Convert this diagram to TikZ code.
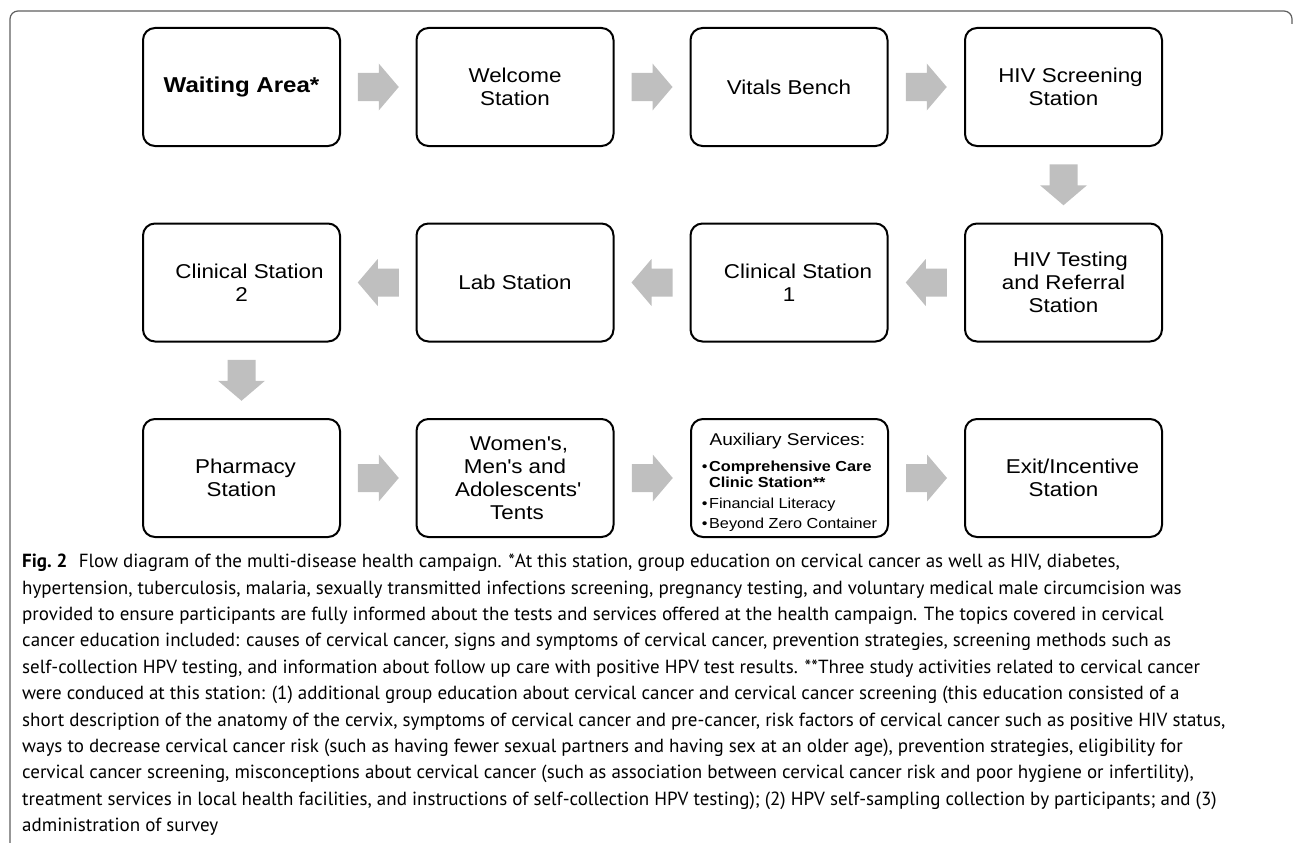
\documentclass[tikz,border=0pt]{standalone}
\usepackage{fontspec}
\usetikzlibrary{calc}
\newfontfamily\diagfont[FakeStretch=1.12, BoldFeatures={FakeStretch=1.12}]{Liberation Sans}
\newfontfamily\capfont{PT Sans}
\definecolor{arrowgray}{RGB}{191,191,191}
\definecolor{framegray}{RGB}{95,95,95}
\begin{document}
\begin{tikzpicture}[x=1pt,y=-1pt,
  stationbox/.style={draw=black, line width=2pt, rounded corners=12pt,
    minimum width=197pt, minimum height=118pt, inner sep=0pt, align=center,
    font=\diagfont\fontsize{20}{23}\selectfont},
  flowarrow/.pic={\fill[arrowgray] (-20.5,-14) -- (0.5,-14) -- (0.5,-23.5) -- (20.5,0)
      -- (0.5,23.5) -- (0.5,14) -- (-20.5,14) -- cycle;}
]
\useasboundingbox (0,0) rectangle (1293,843);
% outer frame
\draw[framegray, line width=1.2pt, rounded corners=8pt] (10,843) -- (10,11) -- (1292,11) -- (1292,24);

% row 1
\node[stationbox] (wait)   at (241.5,87) {\fontsize{21.5}{23}\selectfont\bfseries Waiting Area*};
\node[stationbox] (welc)   at (515,87)   {Welcome\\Station};
\node[stationbox] (vital)  at (789,87)   {Vitals Bench};
\node[stationbox] (hivscr) at (1063.5,87) {\hspace*{14pt}HIV Screening\\Station};
% row 2
\node[stationbox] (hivtest) at (1063.5,282.5) {\hspace*{14pt}HIV Testing\\and Referral\\Station};
\node[stationbox] (clin1)   at (789,282.5)    {\hspace*{18pt}Clinical Station\\1};
\node[stationbox] (lab)     at (515,282.5)    {Lab Station};
\node[stationbox] (clin2)   at (241.5,282.5)  {\hspace*{16pt}Clinical Station\\2};
% row 3
\node[stationbox] (pharm) at (241.5,478) {\hspace*{8pt}Pharmacy\\Station};
\node[stationbox] (tents) at (515,478) {\hspace*{8pt}Women\textquotesingle s,\\Men\textquotesingle s and\\\hspace*{6pt}Adolescents\textquotesingle\\\hspace*{4pt}Tents};
\node[stationbox, align=left, font=\diagfont\fontsize{14.5}{16}\selectfont] (aux) at (789.5,478)
  {\makebox[171pt][c]{\rule{0pt}{20pt}\fontsize{17}{16}\selectfont Auxiliary Services:}\\[10pt]
   \textbullet\hspace{1.5pt}\textbf{Comprehensive Care}\\
   \phantom{\textbullet}\hspace{1.5pt}\textbf{Clinic Station**}\\[5pt]
   \textbullet\hspace{1.5pt}Financial Literacy\\[4pt]
   \textbullet\hspace{1.5pt}Beyond Zero Container};
\node[stationbox] (exit) at (1063.5,478) {\hspace*{18pt}Exit/Incentive\\Station};

% connectors (block arrows)
\pic at ($(wait.east)!0.5!(welc.west)$) {flowarrow};
\pic at ($(welc.east)!0.5!(vital.west)$) {flowarrow};
\pic at ($(vital.east)!0.5!(hivscr.west)$) {flowarrow};
\pic[rotate=-90] at ($(hivscr.south)!0.5!(hivtest.north)$) {flowarrow};
\pic[rotate=180] at ($(hivtest.west)!0.5!(clin1.east)$) {flowarrow};
\pic[rotate=180] at ($(clin1.west)!0.5!(lab.east)$) {flowarrow};
\pic[rotate=180] at ($(lab.west)!0.5!(clin2.east)$) {flowarrow};
\pic[rotate=-90] at ($(clin2.south)!0.5!(pharm.north)$) {flowarrow};
\pic at ($(pharm.east)!0.5!(tents.west)$) {flowarrow};
\pic at ($(tents.east)!0.5!(aux.west)$) {flowarrow};
\pic at ($(aux.east)!0.5!(exit.west)$) {flowarrow};

% caption
\node[anchor=north west, align=left, inner sep=0pt,
      font=\capfont\fontsize{19}{26.4}\selectfont] (caption) at (22,554)
{\textbf{Fig.~2}\hspace{0.6em}Flow diagram of the multi-disease health campaign. *At this station, group education on cervical cancer as well as HIV, diabetes,\\
hypertension, tuberculosis, malaria, sexually transmitted infections screening, pregnancy testing, and voluntary medical male circumcision was\\
provided to ensure participants are fully informed about the tests and services offered at the health campaign. The topics covered in cervical\\
cancer education included: causes of cervical cancer, signs and symptoms of cervical cancer, prevention strategies, screening methods such as\\
self-collection HPV testing, and information about follow up care with positive HPV test results. **Three study activities related to cervical cancer\\
were conduced at this station: (1) additional group education about cervical cancer and cervical cancer screening (this education consisted of a\\
short description of the anatomy of the cervix, symptoms of cervical cancer and pre-cancer, risk factors of cervical cancer such as positive HIV status,\\
ways to decrease cervical cancer risk (such as having fewer sexual partners and having sex at an older age), prevention strategies, eligibility for\\
cervical cancer screening, misconceptions about cervical cancer (such as association between cervical cancer risk and poor hygiene or infertility),\\
treatment services in local health facilities, and instructions of self-collection HPV testing); (2) HPV self-sampling collection by participants; and (3)\\
administration of survey};
\end{tikzpicture}
\end{document}
